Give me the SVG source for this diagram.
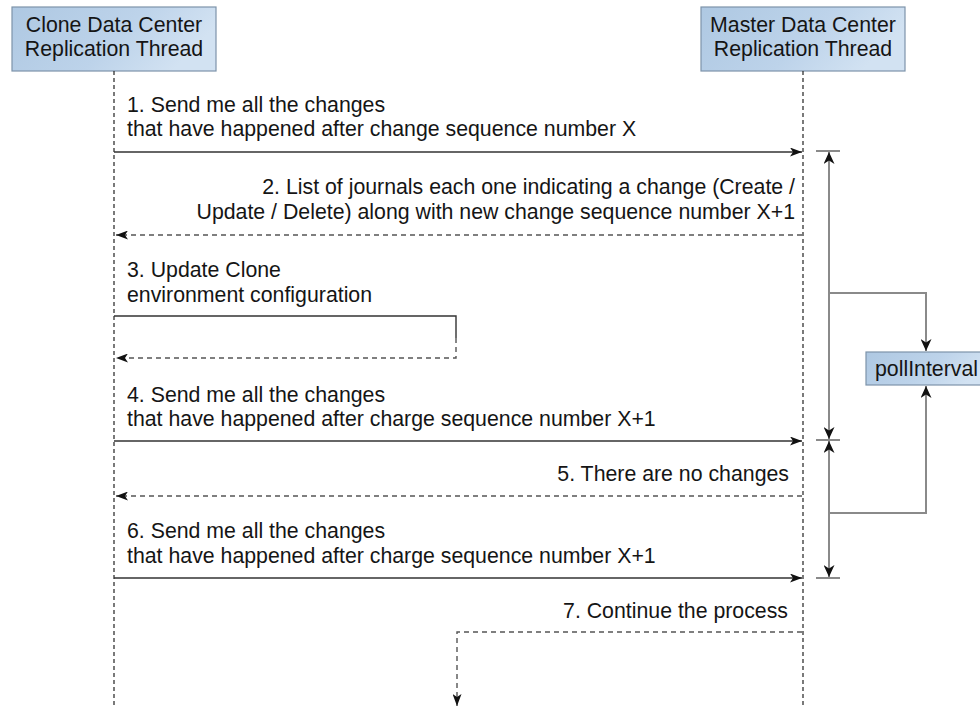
<svg xmlns="http://www.w3.org/2000/svg" width="980" height="708" viewBox="0 0 980 708">
<defs>
<linearGradient id="boxg" x1="0" y1="0" x2="1" y2="0.3">
<stop offset="0" stop-color="#aec8e2"/>
<stop offset="0.6" stop-color="#bdd3ea"/>
<stop offset="1" stop-color="#d2e2f2"/>
</linearGradient>
<marker id="ah" viewBox="0 0 12 9" refX="12" refY="4.5" markerWidth="12" markerHeight="9" markerUnits="userSpaceOnUse" orient="auto">
<path d="M0,0 L12,4.5 L0,9 L3,4.5 Z" fill="#111"/>
</marker>
<marker id="dh" viewBox="0 0 12 11" refX="12" refY="5.5" markerWidth="12" markerHeight="11" markerUnits="userSpaceOnUse" orient="auto">
<path d="M0,0 L12,5.5 L0,11 L3.5,5.5 Z" fill="#111"/>
</marker>
<marker id="dhs" viewBox="0 0 12 11" refX="0" refY="5.5" markerWidth="12" markerHeight="11" markerUnits="userSpaceOnUse" orient="auto">
<path d="M12,0 L0,5.5 L12,11 L8.5,5.5 Z" fill="#111"/>
</marker>
</defs>
<style>
text{font-family:"Liberation Sans",Arial,sans-serif;font-size:21.3px;fill:#151515}
.box{fill:url(#boxg);stroke:#7d93aa;stroke-width:1.2}
.life{stroke:#222;stroke-width:1.2;stroke-dasharray:4 3;fill:none}
.msg{stroke:#333;stroke-width:1.4;fill:none}
.ret{stroke:#555;stroke-width:1.4;stroke-dasharray:5 4;fill:none}
.dim{stroke:#8a8a8a;stroke-width:2;fill:none}
.r{text-anchor:end}
.c{text-anchor:middle}
</style>
<g id="clone">
<rect class="box" x="12" y="7" width="204" height="64"/>
<text class="c" x="114" y="32">Clone Data Center</text>
<text class="c" x="114" y="56">Replication Thread</text>
</g>
<g id="master">
<rect class="box" x="701" y="7" width="204" height="64"/>
<text class="c" x="803" y="32">Master Data Center</text>
<text class="c" x="803" y="56">Replication Thread</text>
</g>
<g id="pollInterval">
<rect class="box" x="866" y="352" width="124" height="33"/>
<text x="875" y="376">pollInterval</text>
</g>
<g id="lifelines">
<line class="life" x1="114" y1="71" x2="114" y2="708"/>
<line class="life" x1="803" y1="71" x2="803" y2="708"/>
</g>
<g id="connectors">
<path class="msg" d="M114,152 H802" marker-end="url(#ah)"/>
<path class="ret" d="M802,235 H116" marker-end="url(#ah)"/>
<path class="msg" d="M114,316 H456 V338"/>
<path class="ret" d="M456,338 V358 H116" marker-end="url(#ah)"/>
<path class="msg" d="M114,441 H802" marker-end="url(#ah)"/>
<path class="ret" d="M802,496 H116" marker-end="url(#ah)"/>
<path class="msg" d="M114,578 H802" marker-end="url(#ah)"/>
<path class="ret" d="M802,632 H457 V706" marker-end="url(#ah)"/>
<line class="dim" x1="816" y1="151" x2="840" y2="151"/>
<line class="dim" x1="816" y1="440" x2="840" y2="440"/>
<line class="dim" x1="816" y1="578" x2="840" y2="578"/>
<path class="dim" d="M829,152 V439" marker-start="url(#dhs)" marker-end="url(#dh)"/>
<path class="dim" d="M829,441 V577" marker-start="url(#dhs)" marker-end="url(#dh)"/>
<path class="dim" d="M829,293 H926 V351" marker-end="url(#dh)"/>
<path class="dim" d="M829,513 H926 V386" marker-end="url(#dh)"/>
</g>
<g id="labels">
<text x="127" y="112">1. Send me all the changes</text>
<text x="127" y="136">that have happened after change sequence number X</text>
<text class="r" x="795" y="194">2. List of journals each one indicating a change (Create /</text>
<text class="r" x="795" y="219">Update / Delete) along with new change sequence number X+1</text>
<text x="127" y="277">3. Update Clone</text>
<text x="127" y="302">environment configuration</text>
<text x="127" y="402">4. Send me all the changes</text>
<text x="127" y="426">that have happened after charge sequence number X+1</text>
<text class="r" x="789" y="481">5. There are no changes</text>
<text x="127" y="538">6. Send me all the changes</text>
<text x="127" y="563">that have happened after charge sequence number X+1</text>
<text class="r" x="788" y="618">7. Continue the process</text>
</g>
</svg>
